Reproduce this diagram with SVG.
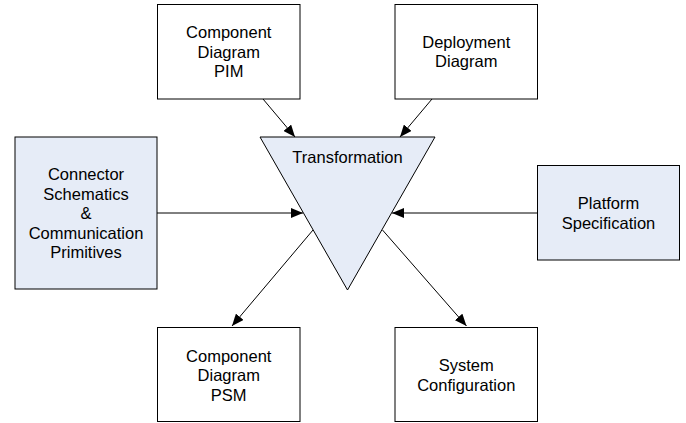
<svg xmlns="http://www.w3.org/2000/svg" width="686" height="423" viewBox="0 0 686 423">
  <style>
    .box { fill: #ffffff; stroke: #000000; stroke-width: 1; }
    .hl { fill: #e6ecf7; stroke: #000000; stroke-width: 1; }
    .lbl { font-family: "Liberation Sans", Arial, sans-serif; font-size: 16.5px; fill: #000000; text-anchor: middle; }
    .edge { stroke: #000000; stroke-width: 1; fill: none; marker-end: url(#arrow); }
  </style>
  <defs>
    <marker id="arrow" markerUnits="userSpaceOnUse" markerWidth="12" markerHeight="10" viewBox="0 0 12 10" refX="12" refY="5" orient="auto">
      <path d="M0,0 L12,5 L0,10 Z" fill="#000000"/>
    </marker>
  </defs>

  <!-- connectors -->
  <g id="connectors">
    <line class="edge" x1="263" y1="99" x2="295" y2="137"/>
    <line class="edge" x1="432" y1="99" x2="400" y2="137"/>
    <line class="edge" x1="157" y1="213" x2="303" y2="213"/>
    <line class="edge" x1="537" y1="213" x2="392" y2="213"/>
    <line class="edge" x1="313" y1="230" x2="232" y2="326"/>
    <line class="edge" x1="382.5" y1="230" x2="466.5" y2="326"/>
  </g>

  <g id="transformation">
    <polygon class="hl" points="260,137 435,137 347.5,290"/>
    <text class="lbl" x="347.5" y="163">Transformation</text>
  </g>

  <g id="component-pim">
    <rect class="box" x="157.5" y="4.5" width="142.5" height="94.5"/>
    <text class="lbl" x="228.75" y="38">Component</text>
    <text class="lbl" x="228.75" y="57.5">Diagram</text>
    <text class="lbl" x="228.75" y="77">PIM</text>
  </g>

  <g id="deployment">
    <rect class="box" x="395" y="4.5" width="142.5" height="94.5"/>
    <text class="lbl" x="466.25" y="47.75">Deployment</text>
    <text class="lbl" x="466.25" y="67.25">Diagram</text>
  </g>

  <g id="connector-schematics">
    <rect class="hl" x="15" y="137" width="142" height="152"/>
    <text class="lbl" x="86" y="180">Connector</text>
    <text class="lbl" x="86" y="199.5">Schematics</text>
    <text class="lbl" x="86" y="219">&amp;</text>
    <text class="lbl" x="86" y="238.5">Communication</text>
    <text class="lbl" x="86" y="258">Primitives</text>
  </g>

  <g id="platform">
    <rect class="hl" x="537.5" y="165.5" width="142" height="94.5"/>
    <text class="lbl" x="608.5" y="209.25">Platform</text>
    <text class="lbl" x="608.5" y="228.75">Specification</text>
  </g>

  <g id="component-psm">
    <rect class="box" x="157.5" y="327.5" width="142.5" height="94"/>
    <text class="lbl" x="228.75" y="361.5">Component</text>
    <text class="lbl" x="228.75" y="381">Diagram</text>
    <text class="lbl" x="228.75" y="400.5">PSM</text>
  </g>

  <g id="system-config">
    <rect class="box" x="395" y="327.5" width="142.5" height="94"/>
    <text class="lbl" x="466.25" y="371">System</text>
    <text class="lbl" x="466.25" y="390.5">Configuration</text>
  </g>
</svg>
